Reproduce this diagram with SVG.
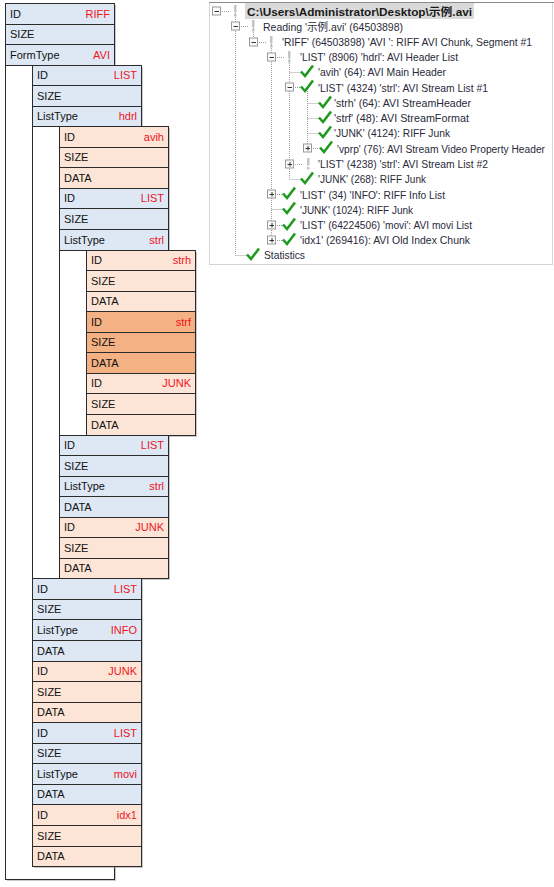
<svg xmlns="http://www.w3.org/2000/svg" width="554" height="887" viewBox="0 0 554 887">
<style>
.b{fill:#dde8f4;stroke:#2b2b2b;stroke-width:1}
.p{fill:#fce5d6;stroke:#2b2b2b;stroke-width:1}
.o{fill:#f4b183;stroke:#2b2b2b;stroke-width:1}
.c{fill:#ffffff;stroke:#2b2b2b;stroke-width:1}
.sh{fill:#9a9a9a;opacity:0.55}
.l{font-family:"Liberation Sans",Arial,sans-serif;font-size:11px;fill:#111}
.v{font-family:"Liberation Sans",Arial,sans-serif;font-size:11px;fill:#f0141e;text-anchor:end}
.t{font-family:"Liberation Sans","Noto Sans CJK SC",sans-serif;font-size:11px;fill:#2a2a3a}
.tb{font-family:"Liberation Sans","Noto Sans CJK SC",sans-serif;font-size:11px;font-weight:bold;fill:#1a1a1a}
.dot{stroke:#a0a0a0;stroke-width:1;stroke-dasharray:1 1;fill:none}
.ex{fill:#fbfbfb;stroke:#9a9a9a;stroke-width:1}
.sg{stroke:#333;stroke-width:1}
.chk{fill:none;stroke:#1f9a1f;stroke-width:2.6;stroke-linejoin:miter}
.bang{fill:#c4c4c4}
</style>

<!-- ================= LEFT: RIFF structure ================= -->
<g id="riff">
  <rect class="sh" x="7" y="5" width="109" height="876"/>
  <rect class="c" x="5.5" y="3.5" width="109" height="876"/>
  <rect class="b" x="5.5" y="3.5" width="109" height="21"/>
  <rect class="b" x="5.5" y="24.5" width="109" height="20"/>
  <rect class="b" x="5.5" y="44.5" width="109" height="21"/>
  <text class="l" x="10" y="17.5">ID</text><text class="v" x="110" y="17.5">RIFF</text>
  <text class="l" x="10" y="38">SIZE</text>
  <text class="l" x="10" y="58.5">FormType</text><text class="v" x="110" y="58.5">AVI</text>
</g>

<g id="list-hdrl">
  <rect class="sh" x="34" y="67" width="109" height="513"/>
  <rect class="c" x="32.5" y="65.5" width="109" height="513"/>
  <rect class="b" x="32.5" y="65.5" width="109" height="20"/>
  <rect class="b" x="32.5" y="85.5" width="109" height="21"/>
  <rect class="b" x="32.5" y="106.5" width="109" height="20"/>
  <text class="l" x="37" y="79">ID</text><text class="v" x="137" y="79">LIST</text>
  <text class="l" x="37" y="99.5">SIZE</text>
  <text class="l" x="37" y="120">ListType</text><text class="v" x="137" y="120">hdrl</text>
</g>

<g id="avih">
  <rect class="sh" x="61" y="128" width="109" height="62"/>
  <rect class="p" x="59.5" y="126.5" width="109" height="21"/>
  <rect class="p" x="59.5" y="147.5" width="109" height="20"/>
  <rect class="p" x="59.5" y="167.5" width="109" height="21"/>
  <text class="l" x="64" y="140.5">ID</text><text class="v" x="164" y="140.5">avih</text>
  <text class="l" x="64" y="161">SIZE</text>
  <text class="l" x="64" y="181.5">DATA</text>
</g>

<g id="list-strl-1">
  <rect class="sh" x="61" y="190" width="109" height="247"/>
  <rect class="c" x="59.5" y="188.5" width="109" height="247"/>
  <rect class="b" x="59.5" y="188.5" width="109" height="20"/>
  <rect class="b" x="59.5" y="208.5" width="109" height="21"/>
  <rect class="b" x="59.5" y="229.5" width="109" height="21"/>
  <text class="l" x="64" y="202">ID</text><text class="v" x="164" y="202">LIST</text>
  <text class="l" x="64" y="222.5">SIZE</text>
  <text class="l" x="64" y="243.5">ListType</text><text class="v" x="164" y="243.5">strl</text>
</g>

<g id="strh">
  <rect class="sh" x="88" y="252" width="109" height="62"/>
  <rect class="p" x="86.5" y="250.5" width="109" height="20"/>
  <rect class="p" x="86.5" y="270.5" width="109" height="21"/>
  <rect class="p" x="86.5" y="291.5" width="109" height="20"/>
  <text class="l" x="91" y="264">ID</text><text class="v" x="191" y="264">strh</text>
  <text class="l" x="91" y="284.5">SIZE</text>
  <text class="l" x="91" y="305">DATA</text>
</g>

<g id="strf">
  <rect class="sh" x="88" y="313" width="109" height="62"/>
  <rect class="o" x="86.5" y="311.5" width="109" height="21"/>
  <rect class="o" x="86.5" y="332.5" width="109" height="20"/>
  <rect class="o" x="86.5" y="352.5" width="109" height="21"/>
  <text class="l" x="91" y="325.5">ID</text><text class="v" x="191" y="325.5">strf</text>
  <text class="l" x="91" y="346">SIZE</text>
  <text class="l" x="91" y="366.5">DATA</text>
</g>

<g id="junk-1">
  <rect class="sh" x="88" y="375" width="109" height="62"/>
  <rect class="p" x="86.5" y="373.5" width="109" height="20"/>
  <rect class="p" x="86.5" y="393.5" width="109" height="21"/>
  <rect class="p" x="86.5" y="414.5" width="109" height="21"/>
  <text class="l" x="91" y="387">ID</text><text class="v" x="191" y="387">JUNK</text>
  <text class="l" x="91" y="407.5">SIZE</text>
  <text class="l" x="91" y="428.5">DATA</text>
</g>

<g id="list-strl-2">
  <rect class="sh" x="61" y="437" width="109" height="82"/>
  <rect class="b" x="59.5" y="435.5" width="109" height="20"/>
  <rect class="b" x="59.5" y="455.5" width="109" height="21"/>
  <rect class="b" x="59.5" y="476.5" width="109" height="20"/>
  <rect class="b" x="59.5" y="496.5" width="109" height="21"/>
  <text class="l" x="64" y="449">ID</text><text class="v" x="164" y="449">LIST</text>
  <text class="l" x="64" y="469.5">SIZE</text>
  <text class="l" x="64" y="490">ListType</text><text class="v" x="164" y="490">strl</text>
  <text class="l" x="64" y="510.5">DATA</text>
</g>

<g id="junk-2">
  <rect class="sh" x="61" y="519" width="109" height="61"/>
  <rect class="p" x="59.5" y="517.5" width="109" height="20"/>
  <rect class="p" x="59.5" y="537.5" width="109" height="21"/>
  <rect class="p" x="59.5" y="558.5" width="109" height="20"/>
  <text class="l" x="64" y="531">ID</text><text class="v" x="164" y="531">JUNK</text>
  <text class="l" x="64" y="551.5">SIZE</text>
  <text class="l" x="64" y="572">DATA</text>
</g>

<g id="list-info">
  <rect class="sh" x="34" y="580" width="109" height="83"/>
  <rect class="b" x="32.5" y="578.5" width="109" height="21"/>
  <rect class="b" x="32.5" y="599.5" width="109" height="20"/>
  <rect class="b" x="32.5" y="619.5" width="109" height="21"/>
  <rect class="b" x="32.5" y="640.5" width="109" height="21"/>
  <text class="l" x="37" y="592.5">ID</text><text class="v" x="137" y="592.5">LIST</text>
  <text class="l" x="37" y="613">SIZE</text>
  <text class="l" x="37" y="633.5">ListType</text><text class="v" x="137" y="633.5">INFO</text>
  <text class="l" x="37" y="654.5">DATA</text>
</g>

<g id="junk-3">
  <rect class="sh" x="34" y="663" width="109" height="61"/>
  <rect class="p" x="32.5" y="661.5" width="109" height="20"/>
  <rect class="p" x="32.5" y="681.5" width="109" height="21"/>
  <rect class="p" x="32.5" y="702.5" width="109" height="20"/>
  <text class="l" x="37" y="675">ID</text><text class="v" x="137" y="675">JUNK</text>
  <text class="l" x="37" y="695.5">SIZE</text>
  <text class="l" x="37" y="716">DATA</text>
</g>

<g id="list-movi">
  <rect class="sh" x="34" y="724" width="109" height="82"/>
  <rect class="b" x="32.5" y="722.5" width="109" height="21"/>
  <rect class="b" x="32.5" y="743.5" width="109" height="20"/>
  <rect class="b" x="32.5" y="763.5" width="109" height="21"/>
  <rect class="b" x="32.5" y="784.5" width="109" height="20"/>
  <text class="l" x="37" y="736.5">ID</text><text class="v" x="137" y="736.5">LIST</text>
  <text class="l" x="37" y="757">SIZE</text>
  <text class="l" x="37" y="777.5">ListType</text><text class="v" x="137" y="777.5">movi</text>
  <text class="l" x="37" y="798">DATA</text>
</g>

<g id="idx1">
  <rect class="sh" x="34" y="806" width="109" height="62"/>
  <rect class="p" x="32.5" y="804.5" width="109" height="21"/>
  <rect class="p" x="32.5" y="825.5" width="109" height="21"/>
  <rect class="p" x="32.5" y="846.5" width="109" height="20"/>
  <text class="l" x="37" y="818.5">ID</text><text class="v" x="137" y="818.5">idx1</text>
  <text class="l" x="37" y="839.5">SIZE</text>
  <text class="l" x="37" y="860">DATA</text>
</g>

<!-- ================= RIGHT: tree view ================= -->
<g id="tree-panel">
  <rect x="209.5" y="2.5" width="343" height="262" fill="#ffffff" stroke="#d4d4d4"/>
  <line x1="209" y1="2.5" x2="554" y2="2.5" stroke="#8a8a8a"/>
  <rect x="245" y="3" width="229" height="16" fill="#dadada"/>
</g>

<g id="connectors">
  <path class="dot" d="M235.5 11 V255.5"/>
  <path class="dot" d="M253.5 26 V42.5"/>
  <path class="dot" d="M271.5 42 V240.5"/>
  <path class="dot" d="M289.5 57 V179.5"/>
  <path class="dot" d="M307.5 87 V148.5"/>
  <path class="dot" d="M220 11.5 H230"/>
  <path class="dot" d="M239 26.5 H248"/>
  <path class="dot" d="M257 42.5 H266"/>
  <path class="dot" d="M275 57.5 H284"/>
  <path class="dot" d="M289.5 72.5 H301"/>
  <path class="dot" d="M293 87.5 H301"/>
  <path class="dot" d="M307.5 103.5 H319"/>
  <path class="dot" d="M307.5 118.5 H319"/>
  <path class="dot" d="M307.5 133.5 H319"/>
  <path class="dot" d="M311 148.5 H319"/>
  <path class="dot" d="M293 164.5 H302"/>
  <path class="dot" d="M289.5 179.5 H301"/>
  <path class="dot" d="M275 194.5 H283"/>
  <path class="dot" d="M271.5 209.5 H283"/>
  <path class="dot" d="M275 225.5 H283"/>
  <path class="dot" d="M275 240.5 H283"/>
  <path class="dot" d="M235.5 255.5 H247"/>
</g>

<defs>
  <g id="minus"><rect class="ex" x="-4" y="-4" width="8" height="8"/><path class="sg" d="M-2 0.5 H2.5"/></g>
  <g id="plus"><rect class="ex" x="-4" y="-4" width="8" height="8"/><path class="sg" d="M-2 0.5 H2.5 M0.5 -2 V2.5"/></g>
  <g id="bang"><rect class="bang" x="-1" y="-6" width="2.5" height="7.5"/><rect class="bang" x="-1" y="3" width="2.5" height="2.5"/></g>
  <path id="check" class="chk" d="M-6 -0.5 L-2 4 L6 -6.5"/>
</defs>

<g id="n0"><use href="#minus" x="216.5" y="11"/><use href="#bang" x="235" y="11"/>
  <text class="tb" x="247" y="15.5" textLength="225" lengthAdjust="spacingAndGlyphs">C:\Users\Administrator\Desktop\示例.avi</text></g>
<g id="n1"><use href="#minus" x="235.5" y="26"/><use href="#bang" x="253" y="26"/>
  <text class="t" x="263" y="30.5" textLength="140" lengthAdjust="spacingAndGlyphs">Reading '示例.avi' (64503898)</text></g>
<g id="n2"><use href="#minus" x="253.5" y="42"/><use href="#bang" x="271" y="42"/>
  <text class="t" x="282" y="46" textLength="250" lengthAdjust="spacingAndGlyphs">'RIFF' (64503898) 'AVI ': RIFF AVI Chunk, Segment #1</text></g>
<g id="n3"><use href="#minus" x="271.5" y="57"/><use href="#bang" x="289" y="57"/>
  <text class="t" x="300" y="61" textLength="158" lengthAdjust="spacingAndGlyphs">'LIST' (8906) 'hdrl': AVI Header List</text></g>
<g id="n4"><use href="#check" x="307" y="72"/>
  <text class="t" x="318" y="76" textLength="128" lengthAdjust="spacingAndGlyphs">'avih' (64): AVI Main Header</text></g>
<g id="n5"><use href="#minus" x="289.5" y="87"/><use href="#check" x="307" y="87"/>
  <text class="t" x="318" y="91.5" textLength="170" lengthAdjust="spacingAndGlyphs">'LIST' (4324) 'strl': AVI Stream List #1</text></g>
<g id="n6"><use href="#check" x="325" y="103"/>
  <text class="t" x="334" y="107" textLength="137" lengthAdjust="spacingAndGlyphs">'strh' (64): AVI StreamHeader</text></g>
<g id="n7"><use href="#check" x="325" y="118"/>
  <text class="t" x="334" y="122" textLength="135" lengthAdjust="spacingAndGlyphs">'strf' (48): AVI StreamFormat</text></g>
<g id="n8"><use href="#check" x="325" y="133"/>
  <text class="t" x="334" y="137" textLength="116" lengthAdjust="spacingAndGlyphs">'JUNK' (4124): RIFF Junk</text></g>
<g id="n9"><use href="#plus" x="307.5" y="148"/><use href="#check" x="326" y="148"/>
  <text class="t" x="337" y="152.5" font-size="10" textLength="208" lengthAdjust="spacingAndGlyphs" style="font-size:10px">'vprp' (76): AVI Stream Video Property Header</text></g>
<g id="n10"><use href="#plus" x="289.5" y="164"/><use href="#bang" x="308" y="164"/>
  <text class="t" x="318" y="168" textLength="170" lengthAdjust="spacingAndGlyphs">'LIST' (4238) 'strl': AVI Stream List #2</text></g>
<g id="n11"><use href="#check" x="307" y="179"/>
  <text class="t" x="318" y="183" textLength="108" lengthAdjust="spacingAndGlyphs">'JUNK' (268): RIFF Junk</text></g>
<g id="n12"><use href="#plus" x="271.5" y="194"/><use href="#check" x="289" y="194"/>
  <text class="t" x="300" y="198.5" textLength="145" lengthAdjust="spacingAndGlyphs">'LIST' (34) 'INFO': RIFF Info List</text></g>
<g id="n13"><use href="#check" x="289" y="209"/>
  <text class="t" x="300" y="213.5" textLength="113" lengthAdjust="spacingAndGlyphs">'JUNK' (1024): RIFF Junk</text></g>
<g id="n14"><use href="#plus" x="271.5" y="225"/><use href="#check" x="289" y="225"/>
  <text class="t" x="300" y="229" textLength="172" lengthAdjust="spacingAndGlyphs">'LIST' (64224506) 'movi': AVI movi List</text></g>
<g id="n15"><use href="#plus" x="271.5" y="240"/><use href="#check" x="289" y="240"/>
  <text class="t" x="300" y="244" textLength="170" lengthAdjust="spacingAndGlyphs">'idx1' (269416): AVI Old Index Chunk</text></g>
<g id="n16"><use href="#check" x="253" y="255"/>
  <text class="t" x="264" y="259" textLength="41" lengthAdjust="spacingAndGlyphs">Statistics</text></g>
</svg>
